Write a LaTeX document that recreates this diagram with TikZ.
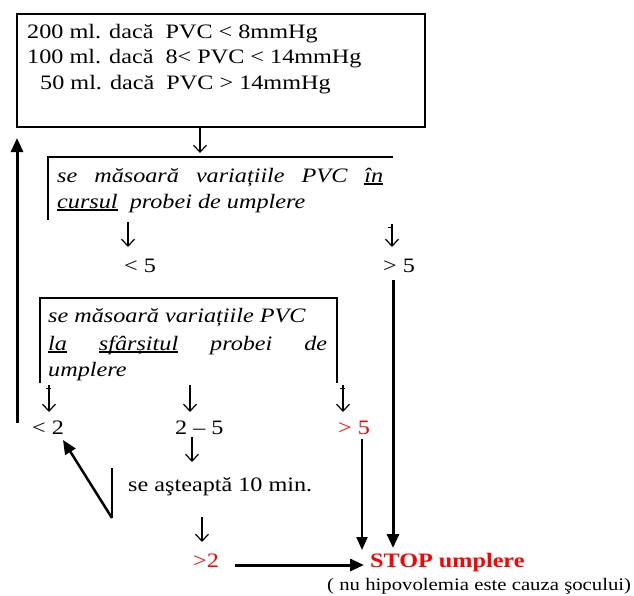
\documentclass[tikz,border=0pt]{standalone}
\usepackage{fontspec}
\setmainfont{Liberation Serif}[FakeStretch=1.18]
\usetikzlibrary{arrows.meta}
\definecolor{stopred}{RGB}{255,0,0}
\newcommand{\myul}[1]{\setbox0\hbox{#1}\rlap{\rule[-2.6pt]{\wd0}{1.3pt}}\box0\relax}
\begin{document}
\begin{tikzpicture}[x=1pt,y=-1pt,
  txt/.style={anchor=base west, inner sep=0pt, font=\fontsize{20.5}{24}\selectfont},
  itxt/.style={anchor=base west, inner sep=0pt, font=\fontsize{20.5}{24}\selectfont\itshape},
  redtxt/.style={txt, text=stopred},
  frame/.style={line width=2pt},
  glyph/.style={line width=1.2pt, -{Straight Barb[length=7pt,width=13pt,line width=1.2pt]}},
  tickmark/.style={line width=0.8pt},
  bigarrow/.style={line width=3pt, -{Triangle[length=14pt,width=12pt]}},
  midarrow/.style={line width=2.2pt, -{Triangle[length=13pt,width=11pt]}}]
\useasboundingbox (0,0) rectangle (634,595);

% ---- top box
\node[draw, frame, minimum width=408pt, minimum height=113pt, inner sep=0pt] (box1) at (221,70.5) {};
\node[txt] (l1) at (27,38) {200 ml. dacă\ \ PVC < 8mmHg};
\node[txt] (l2) at (27,63.5) {100 ml. dacă\ \ 8< PVC < 14mmHg};
\node[txt] (l3) at (40,89) {50 ml. dacă\ \ PVC > 14mmHg};

% ---- second (open) box
\coordinate (b2bl) at (48,220);
\coordinate (b2tl) at (48,157);
\coordinate (b2tr) at (393,157);
\draw[frame] (b2bl) -- (b2tl) -- (b2tr);
\node[itxt] (m1) at (57,182) {\makebox[326pt][s]{se măsoară variațiile PVC \myul{în}}};
\node[itxt] (m2) at (57,208) {\myul{cursul}\ \ probei de umplere};

\coordinate (a1s) at (200,127);
\coordinate (a1e) at (200,153);
\draw[glyph] (a1s) -- (a1e);

\node[txt] (lt5) at (124,272) {< 5};
\node[txt] (gt5) at (383,272) {> 5};
\coordinate (a2s) at (128,222);
\coordinate (a2e) at (128,247);
\draw[glyph] (a2s) -- (a2e);
\coordinate (a3s) at (392,224);
\coordinate (a3e) at (392,247);
\draw[glyph] (a3s) -- (a3e);
\draw[tickmark] (388,227) -- (393,227);

% ---- thick arrows
\coordinate (t1s) at (393,280);
\coordinate (t1e) at (393,548);
\draw[bigarrow] (t1s) -- (t1e);
\coordinate (upS) at (17,423);
\coordinate (upE) at (17,138);
\draw[bigarrow] (upS) -- (upE);

% ---- third (open) box
\coordinate (b3bl) at (40,383);
\coordinate (b3tl) at (40,298);
\coordinate (b3tr) at (337,298);
\coordinate (b3br) at (337,383);
\draw[frame] (b3bl) -- (b3tl) -- (b3tr) -- (b3br);
\node[itxt] (n1) at (48,322) {se măsoară variațiile PVC};
\node[itxt] (n2) at (48,350) {\makebox[279pt][s]{\myul{la} \myul{sfârșitul} probei de}};
\node[itxt] (n3) at (48,376) {umplere};

\coordinate (b1s) at (49,385); \coordinate (b1e) at (49,412);
\coordinate (b2s) at (190,385); \coordinate (b2e) at (190,412);
\coordinate (b3s) at (343,385); \coordinate (b3e) at (343,412);
\draw[glyph] (b1s) -- (b1e);
\draw[glyph] (b2s) -- (b2e);
\draw[glyph] (b3s) -- (b3e);
\draw[tickmark] (46,388) -- (51,388);
\draw[tickmark] (340,388) -- (345,388);

\node[txt] (lt2) at (32,434) {< 2};
\node[txt] (r25) at (175,434) {2 – 5};
\node[redtxt] (gt5b) at (338,434) {> 5};

% ---- wait branch
\coordinate (c1s) at (192,437); \coordinate (c1e) at (192,462);
\draw[glyph] (c1s) -- (c1e);
\node[txt] (wait) at (128,491) {se aşteaptă 10 min.};
\coordinate (vt) at (112,468);
\coordinate (vb) at (112,518);
\coordinate (dg) at (63,440);
\draw[line width=1.5pt] (vt) -- (vb);
\draw[line width=2.5pt, -{Triangle[length=14pt,width=12pt]}] (vb) -- (dg);

\coordinate (c2s) at (202,517); \coordinate (c2e) at (202,542);
\draw[glyph] (c2s) -- (c2e);
\node[redtxt] (gt2) at (193,567) {>2};

% ---- STOP
\node[anchor=base west, inner sep=0pt, text=stopred, font=\fontsize{20.5}{24}\selectfont\bfseries] (stop) at (370,567) {STOP umplere};
\node[anchor=base west, inner sep=0pt, font=\fontsize{17.6}{21}\selectfont] (note) at (327,590) {( nu hipovolemia este cauza şocului)};

\coordinate (h1s) at (235,565);
\coordinate (h1e) at (364,565);
\draw[bigarrow] (h1s) -- (h1e);
\coordinate (v5s) at (362,439);
\coordinate (v5e) at (362,550);
\draw[midarrow] (v5s) -- (v5e);
\end{tikzpicture}
\end{document}
